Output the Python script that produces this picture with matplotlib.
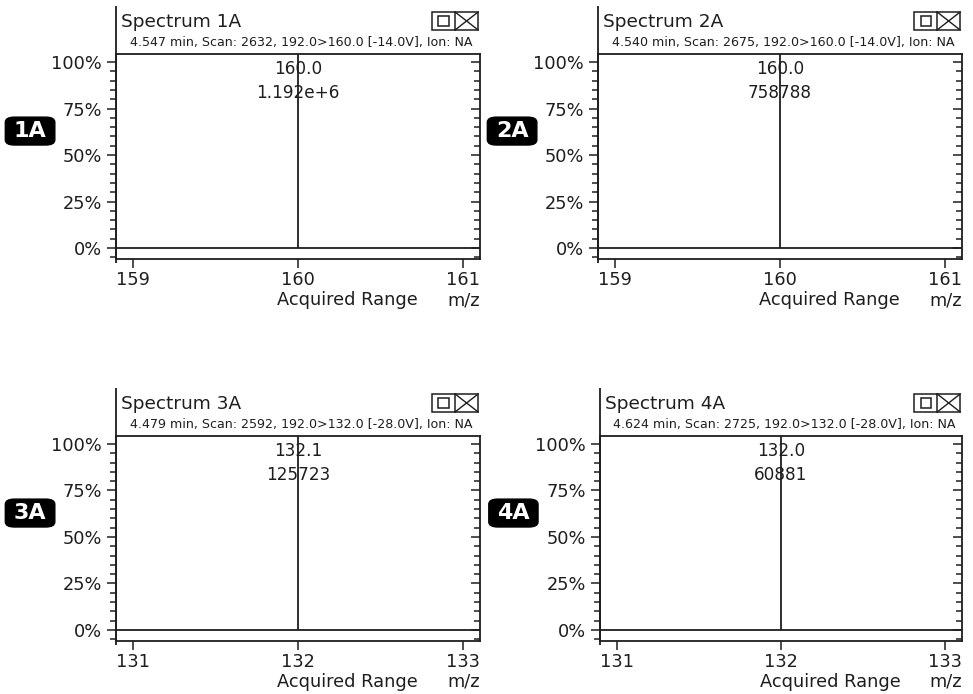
import matplotlib
matplotlib.use("Agg")
from matplotlib import pyplot as plt
from matplotlib.patches import Rectangle, FancyBboxPatch
from matplotlib.ticker import MultipleLocator, NullLocator, FuncFormatter
from matplotlib.transforms import blended_transform_factory

plt.rcParams['font.family'] = ['DejaVu Sans']

panel_names = ["1A", "2A", "3A", "4A"]
titles = ["Spectrum 1A", "Spectrum 2A", "Spectrum 3A", "Spectrum 4A"]
subtitles = ["4.547 min, Scan: 2632, 192.0>160.0 [-14.0V], Ion: NA",
             "4.540 min, Scan: 2675, 192.0>160.0 [-14.0V], Ion: NA",
             "4.479 min, Scan: 2592, 192.0>132.0 [-28.0V], Ion: NA",
             "4.624 min, Scan: 2725, 192.0>132.0 [-28.0V], Ion: NA"]
peak_mz = [160.0, 160.0, 132.0, 132.0]
peak_rel = [100, 100, 100, 100]
peak_mz_labels = ["160.0", "160.0", "132.1", "132.0"]
peak_counts = ["1.192e+6", "758788", "125723", "60881"]
x_ticks = [[159, 160, 161], [159, 160, 161], [131, 132, 133], [131, 132, 133]]
y_ticks = [0, 25, 50, 75, 100]

ink = "#1e1e1e"
fig = plt.figure(figsize=(9.73, 6.94), dpi=100)
positions = [[0.1192, 0.6268, 0.3741, 0.2954],
             [0.6146, 0.6268, 0.3741, 0.2954],
             [0.1192, 0.0764, 0.3741, 0.2954],
             [0.6166, 0.0764, 0.3721, 0.2954]]

for i in range(4):
    ax = fig.add_axes(positions[i])
    xt = x_ticks[i]
    ax.set_xlim(xt[0] - 0.103, xt[-1] + 0.103)
    ax.set_ylim(-5.9, 104.3)

    # baseline and peak
    ax.axhline(0, color=ink, lw=1.3)
    ax.vlines(peak_mz[i], 0, max(peak_rel[i], ax.get_ylim()[1]), color=ink, lw=1.3)

    trans = blended_transform_factory(ax.transData, ax.transAxes)
    ax.text(peak_mz[i], 0.927, peak_mz_labels[i], transform=trans, ha="center", va="center",
            fontsize=12.2, color=ink)
    ax.text(peak_mz[i], 0.81, peak_counts[i], transform=trans, ha="center", va="center",
            fontsize=12.2, color=ink)

    for s in ax.spines.values():
        s.set_color(ink)
        s.set_linewidth(1.3)

    ax.set_xticks(xt)
    ax.set_yticks(y_ticks)
    ax.yaxis.set_minor_locator(MultipleLocator(5))
    ax.xaxis.set_minor_locator(NullLocator())
    ax.yaxis.set_major_formatter(FuncFormatter(lambda v, p: "%d%%" % v))
    ax.tick_params(axis="y", which="both", left=True, right=True, direction="out",
                   colors=ink, labelsize=12.8, width=1.1)
    ax.tick_params(axis="y", which="major", length=6.5)
    ax.tick_params(axis="y", which="minor", length=4)
    ax.tick_params(axis="x", direction="out", length=6.5, width=1.1, colors=ink,
                   labelsize=12.8, pad=2)
    # right side ticks point inward
    n_minor = len(ax.yaxis.get_minorticklocs())
    for t in ax.yaxis.get_major_ticks(len(y_ticks)) + ax.yaxis.get_minor_ticks(n_minor):
        t.tick2line.set_marker(0)

    # extended left spine
    ax.plot([0, 0], [-0.02, 1.234], transform=ax.transAxes, color=ink, lw=1.3,
            clip_on=False, solid_capstyle="butt")

    ax.text(0.014, 1.158, titles[i], transform=ax.transAxes, ha="left", va="center",
            fontsize=13.3, color=ink)
    ax.text(0.51, 1.054, subtitles[i], transform=ax.transAxes, ha="center", va="center",
            fontsize=9.1, color=ink)

    # window icons
    ax.add_patch(Rectangle((0.868, 1.117), 0.127, 0.088, transform=ax.transAxes,
                           fill=False, ec=ink, lw=1.1, clip_on=False))
    ax.plot([0.9315, 0.9315], [1.117, 1.205], transform=ax.transAxes, color=ink, lw=1.1, clip_on=False)
    ax.add_patch(Rectangle((0.886, 1.138), 0.028, 0.046, transform=ax.transAxes,
                           fill=False, ec=ink, lw=1.1, clip_on=False))
    ax.plot([0.9315, 0.995], [1.117, 1.205], transform=ax.transAxes, color=ink, lw=1.0, clip_on=False)
    ax.plot([0.9315, 0.995], [1.205, 1.117], transform=ax.transAxes, color=ink, lw=1.0, clip_on=False)

    ax.text(0.637, -0.2, "Acquired Range", transform=ax.transAxes, ha="center", va="center",
            fontsize=12.8, color=ink)
    ax.text(1.0, -0.2, "m/z", transform=ax.transAxes, ha="right", va="center",
            fontsize=12.8, color=ink)

    # panel badge
    bx = -0.236 if i != 3 else -0.239
    ax.add_patch(FancyBboxPatch((bx - 0.063, 0.624 - 0.063), 0.126, 0.126,
                                boxstyle="round,pad=0.005,rounding_size=0.025",
                                transform=ax.transAxes, fc="black", ec="black", clip_on=False))
    ax.text(bx, 0.622, panel_names[i], transform=ax.transAxes, ha="center", va="center",
            fontsize=16, fontweight="bold", color="white")

fig.savefig("out.png", dpi=100)
